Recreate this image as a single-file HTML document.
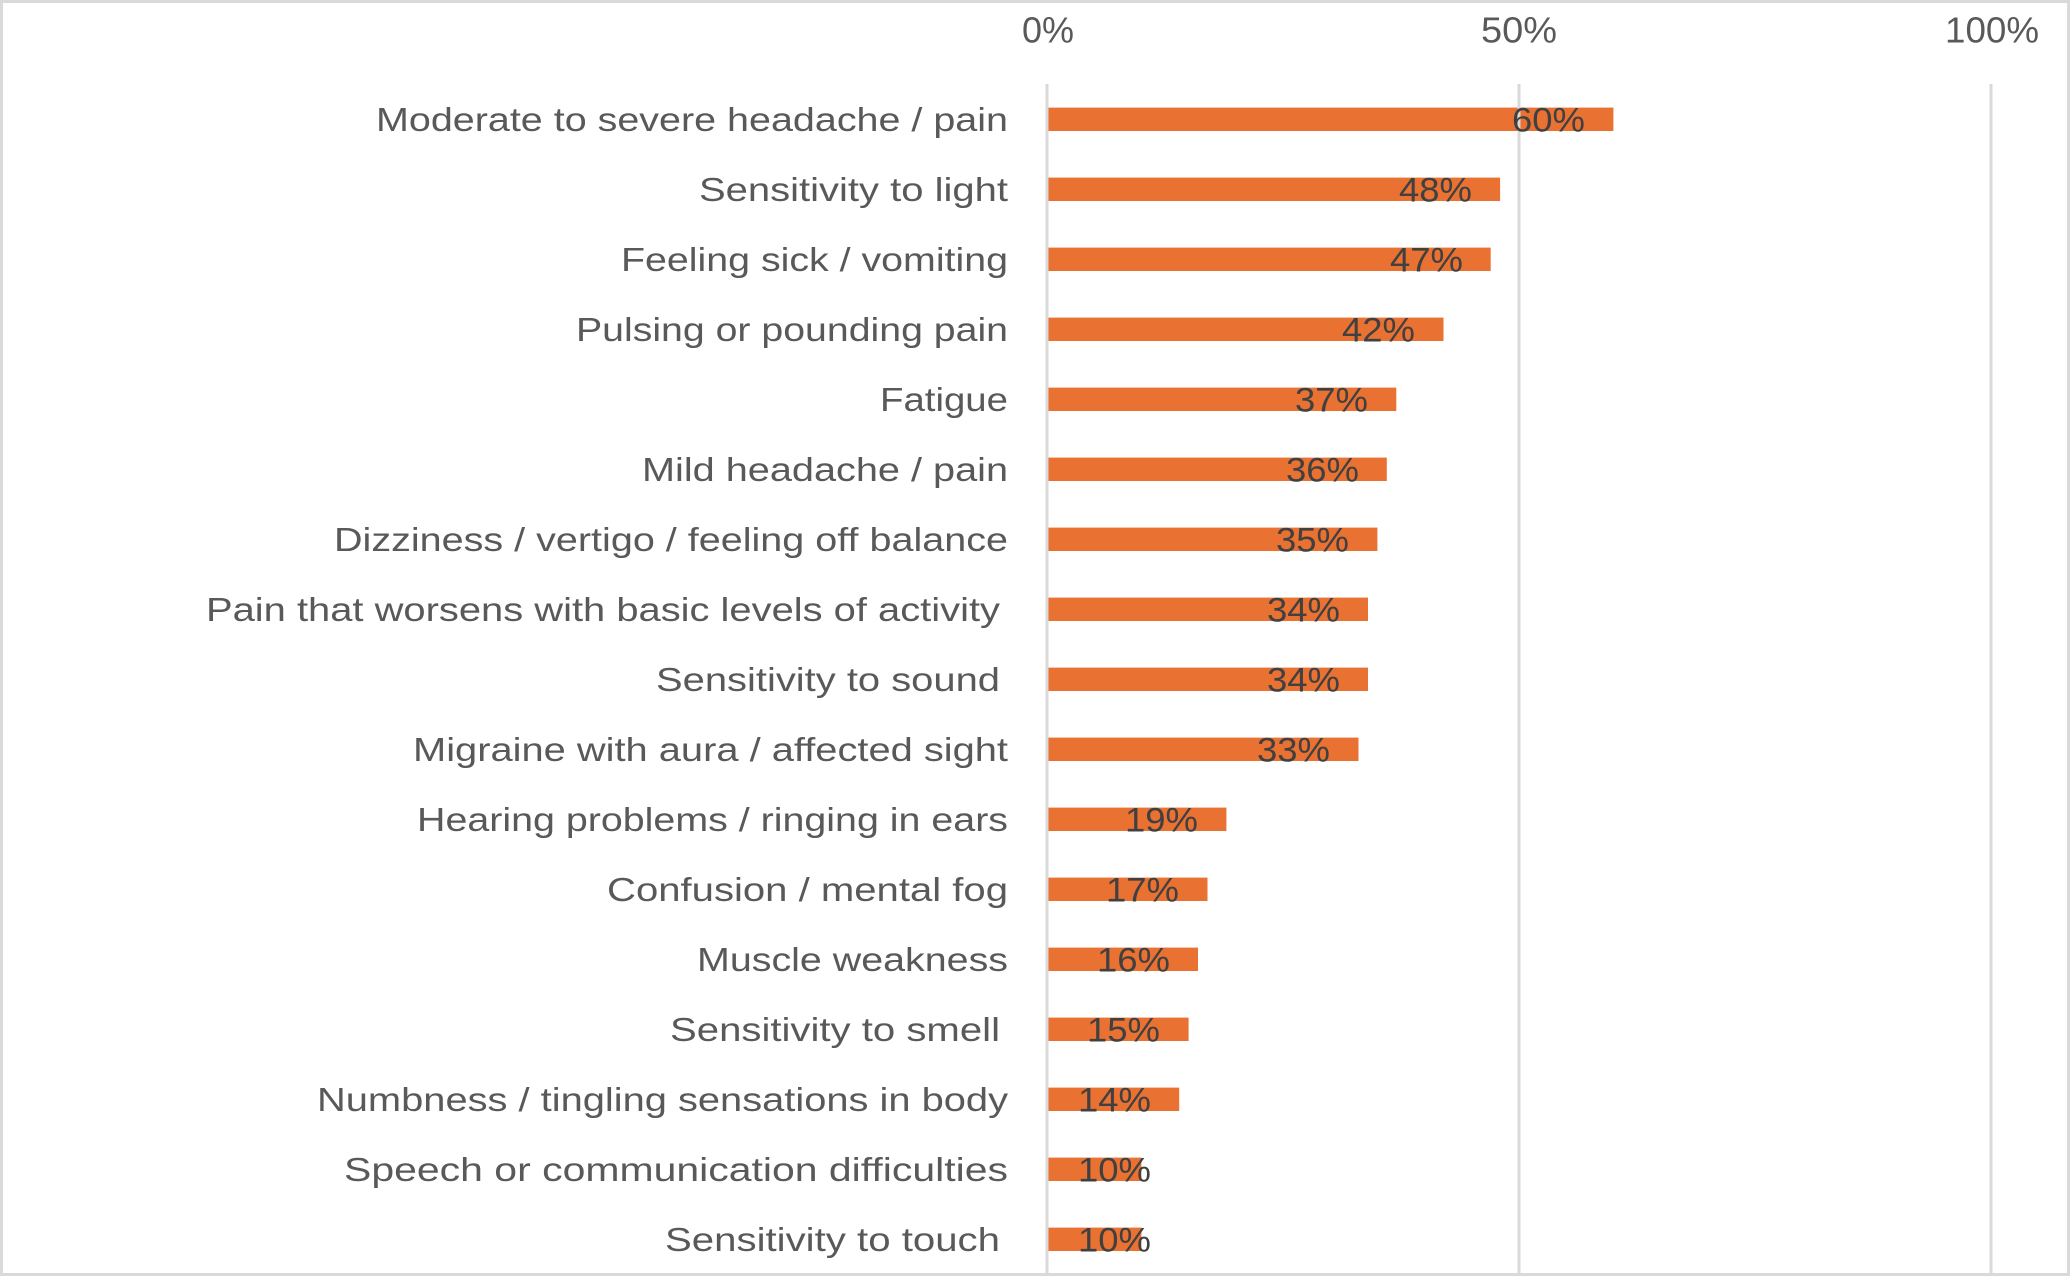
<!DOCTYPE html>
<html>
<head>
<meta charset="utf-8">
<style>
  html, body { margin: 0; padding: 0; background: #ffffff; }
  svg { display: block; }
  .cat { font-family: "Liberation Sans", sans-serif; font-size: 33.5px; fill: #595959; }
  .tick { font-family: "Liberation Sans", sans-serif; font-size: 36px; fill: #595959; }
  .dl { font-family: "Liberation Sans", sans-serif; font-size: 34px; fill: #404040; }
</style>
</head>
<body>
<svg width="2071" height="1276" viewBox="0 0 2071 1276" xmlns="http://www.w3.org/2000/svg">
  <rect x="0" y="0" width="2071" height="1276" fill="#ffffff"/>
  <!-- border -->
  <rect x="1.5" y="1.5" width="2067" height="1273" fill="none" stroke="#d9d9d9" stroke-width="3"/>

  <!-- tick labels -->
  <text class="tick" x="1022" y="42.5" textLength="52" lengthAdjust="spacingAndGlyphs">0%</text>
  <text class="tick" x="1481" y="42.5" textLength="76" lengthAdjust="spacingAndGlyphs">50%</text>
  <text class="tick" x="1945" y="42.5" textLength="94" lengthAdjust="spacingAndGlyphs">100%</text>

  <!-- bars -->
  <g fill="#E97132">
    <rect x="1047" y="107.6" width="566.4" height="23.4"/>
    <rect x="1047" y="177.6" width="453.1" height="23.4"/>
    <rect x="1047" y="247.6" width="443.7" height="23.4"/>
    <rect x="1047" y="317.6" width="396.5" height="23.4"/>
    <rect x="1047" y="387.6" width="349.3" height="23.4"/>
    <rect x="1047" y="457.6" width="339.8" height="23.4"/>
    <rect x="1047" y="527.6" width="330.4" height="23.4"/>
    <rect x="1047" y="597.6" width="321.0" height="23.4"/>
    <rect x="1047" y="667.6" width="321.0" height="23.4"/>
    <rect x="1047" y="737.6" width="311.5" height="23.4"/>
    <rect x="1047" y="807.6" width="179.4" height="23.4"/>
    <rect x="1047" y="877.6" width="160.5" height="23.4"/>
    <rect x="1047" y="947.6" width="151.0" height="23.4"/>
    <rect x="1047" y="1017.6" width="141.6" height="23.4"/>
    <rect x="1047" y="1087.6" width="132.2" height="23.4"/>
    <rect x="1047" y="1157.6" width="94.4" height="23.4"/>
    <rect x="1047" y="1227.6" width="94.4" height="23.4"/>
  </g>

  <!-- gridlines -->
  <g fill="#d9d9d9">
    <rect x="1045.5" y="84" width="3" height="1190"/>
    <rect x="1517.5" y="84" width="3" height="1190"/>
    <rect x="1989.5" y="84" width="3" height="1190"/>
  </g>

  <!-- category labels -->
  <g class="cat">
    <text x="376" y="130.8" textLength="632" lengthAdjust="spacingAndGlyphs">Moderate to severe headache / pain</text>
    <text x="699" y="200.8" textLength="309" lengthAdjust="spacingAndGlyphs">Sensitivity to light</text>
    <text x="621" y="270.8" textLength="387" lengthAdjust="spacingAndGlyphs">Feeling sick / vomiting</text>
    <text x="576" y="340.8" textLength="432" lengthAdjust="spacingAndGlyphs">Pulsing or pounding pain</text>
    <text x="880" y="410.8" textLength="128" lengthAdjust="spacingAndGlyphs">Fatigue</text>
    <text x="642" y="480.8" textLength="366" lengthAdjust="spacingAndGlyphs">Mild headache / pain</text>
    <text x="334" y="550.8" textLength="674" lengthAdjust="spacingAndGlyphs">Dizziness / vertigo / feeling off balance</text>
    <text x="206" y="620.8" textLength="794" lengthAdjust="spacingAndGlyphs">Pain that worsens with basic levels of activity</text>
    <text x="656" y="690.8" textLength="344" lengthAdjust="spacingAndGlyphs">Sensitivity to sound</text>
    <text x="413" y="760.8" textLength="595" lengthAdjust="spacingAndGlyphs">Migraine with aura / affected sight</text>
    <text x="417" y="830.8" textLength="591" lengthAdjust="spacingAndGlyphs">Hearing problems / ringing in ears</text>
    <text x="607" y="900.8" textLength="401" lengthAdjust="spacingAndGlyphs">Confusion / mental fog</text>
    <text x="697" y="970.8" textLength="311" lengthAdjust="spacingAndGlyphs">Muscle weakness</text>
    <text x="670" y="1040.8" textLength="330" lengthAdjust="spacingAndGlyphs">Sensitivity to smell</text>
    <text x="317" y="1110.8" textLength="691" lengthAdjust="spacingAndGlyphs">Numbness / tingling sensations in body</text>
    <text x="344" y="1180.8" textLength="664" lengthAdjust="spacingAndGlyphs">Speech or communication difficulties</text>
    <text x="665" y="1250.8" textLength="335" lengthAdjust="spacingAndGlyphs">Sensitivity to touch</text>
  </g>

  <!-- data labels -->
  <g class="dl">
    <text x="1512" y="131.3" textLength="73" lengthAdjust="spacingAndGlyphs">60%</text>
    <text x="1399" y="201.3" textLength="73" lengthAdjust="spacingAndGlyphs">48%</text>
    <text x="1390" y="271.3" textLength="73" lengthAdjust="spacingAndGlyphs">47%</text>
    <text x="1342" y="341.3" textLength="73" lengthAdjust="spacingAndGlyphs">42%</text>
    <text x="1295" y="411.3" textLength="73" lengthAdjust="spacingAndGlyphs">37%</text>
    <text x="1286" y="481.3" textLength="73" lengthAdjust="spacingAndGlyphs">36%</text>
    <text x="1276" y="551.3" textLength="73" lengthAdjust="spacingAndGlyphs">35%</text>
    <text x="1267" y="621.3" textLength="73" lengthAdjust="spacingAndGlyphs">34%</text>
    <text x="1267" y="691.3" textLength="73" lengthAdjust="spacingAndGlyphs">34%</text>
    <text x="1257" y="761.3" textLength="73" lengthAdjust="spacingAndGlyphs">33%</text>
    <text x="1125" y="831.3" textLength="73" lengthAdjust="spacingAndGlyphs">19%</text>
    <text x="1106" y="901.3" textLength="73" lengthAdjust="spacingAndGlyphs">17%</text>
    <text x="1097" y="971.3" textLength="73" lengthAdjust="spacingAndGlyphs">16%</text>
    <text x="1087" y="1041.3" textLength="73" lengthAdjust="spacingAndGlyphs">15%</text>
    <text x="1078" y="1111.3" textLength="73" lengthAdjust="spacingAndGlyphs">14%</text>
    <text x="1078" y="1181.3" textLength="73" lengthAdjust="spacingAndGlyphs">10%</text>
    <text x="1078" y="1251.3" textLength="73" lengthAdjust="spacingAndGlyphs">10%</text>
  </g>
</svg>
</body>
</html>
